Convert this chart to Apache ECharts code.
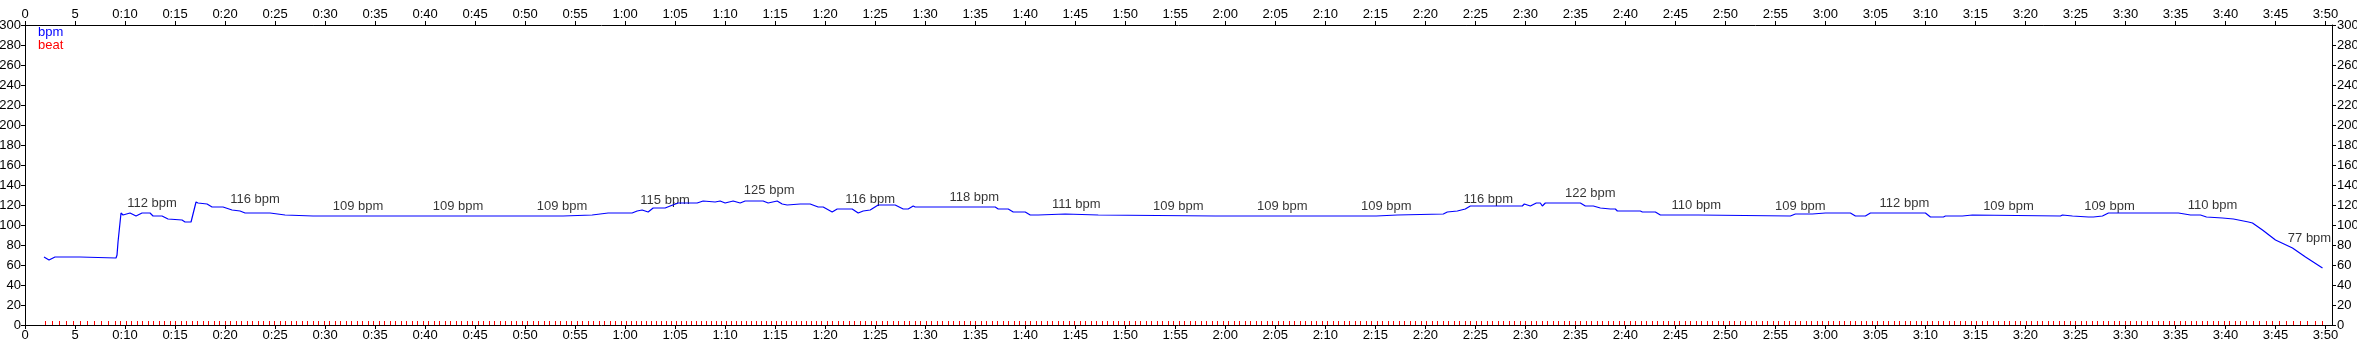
<!DOCTYPE html>
<html>
<head>
<meta charset="utf-8">
<script src="https://cdn.jsdelivr.net/npm/echarts@6/dist/echarts.min.js"></script>
<style>
html,body{margin:0;padding:0;background:#fff;}
#chart{width:2357px;height:350px;}
</style>
</head>
<body>
<div id="chart"></div>
<script>
// Heart-rate curve (time in seconds, bpm)
var bpmTime = [1.9,2.4,3.0,5.5,5.6,9.1,9.2,9.3,9.6,9.8,10.5,11.1,11.7,12.5,12.8,13.7,14.3,15.7,16.0,16.6,17.1,17.3,18.2,18.7,19.8,20.7,21.5,22.0,24.5,26.0,28.8,40.0,53.8,53.9,56.7,58.3,60.7,61.2,61.7,62.3,62.8,64.0,64.5,65.3,67.2,67.8,69.0,69.5,70.0,70.8,71.5,72.0,73.8,74.3,75.2,75.7,76.2,77.5,78.5,79.3,79.8,80.7,81.2,82.7,83.3,83.8,84.5,85.3,87.0,87.8,88.3,88.8,89.0,97.0,97.3,98.3,98.8,100.0,100.5,101.3,101.4,104.0,104.1,107.3,107.4,119.0,135.1,135.2,137.2,137.3,141.8,142.2,143.2,144.0,144.5,149.7,149.9,150.5,151.1,151.5,151.7,152.0,155.5,156.0,156.8,157.5,158.5,159.0,159.2,161.5,161.7,163.0,163.5,167.3,167.4,176.5,177.0,178.7,178.8,180.0,180.1,182.5,183.0,184.0,184.5,188.7,190.0,190.5,191.8,192.0,193.7,193.8,194.7,194.8,203.5,203.7,204.7,206.3,206.8,207.7,208.3,215.3,216.5,217.5,218.1,219.7,220.8,222.3,222.7,223.7,225.0,226.7,228.0,229.7];
var bpmValue = [68,65,68,68,67,67,70,83,112,110,112,109,112,112,109,109,106,105,103,103,123,122,121,118,118,115,114,112,112,110,109,109,109,110,110,112,112,114,115,113,117,117,119,122,122,124,123,124,122,124,122,124,124,122,124,121,120,121,121,118,118,113,116,116,112,114,115,120,120,116,116,119,118,118,116,116,113,113,110,110,111,111,110,110,109,109,109,110,110,111,111,113,114,116,119,119,121,119,122,122,119,122,122,119,119,117,116,116,114,114,113,113,110,110,109,109,111,111,112,112,112,112,109,109,112,112,112,108,108,109,109,110,110,109,109,110,109,108,108,109,112,112,110,110,108,107,106,103,102,95,85,77,68,57];

// Average labels along the curve
var labelTime = [12.7,23.0,33.3,43.3,53.7,64.0,74.4,84.5,94.9,105.1,115.3,125.7,136.1,146.3,156.5,167.1,177.5,187.9,198.3,208.4,218.7,228.4];
var labelValue = [112,116,109,109,109,115,125,116,118,111,109,109,109,116,122,110,109,112,109,109,110,77];

// Beat markers (time in seconds)
var beatTime = [2.0,2.7,3.4,4.1,4.8,5.5,6.2,6.9,7.6,8.3,9.0,
9.5,10.05,10.6,11.15,11.7,12.25,12.8,13.35,13.9,14.45,15,15.55,16.1,16.65,17.2,17.75,18.3,18.85,19.4,19.95,
20.5,21.05,21.6,22.15,22.7,23.25,23.8,24.35,24.9,25.45,26,26.55,27.1,27.65,28.2,28.75,29.3,29.85,30.4,30.95,
31.5,32.05,32.6,33.15,33.7,34.25,34.8,35.35,35.9,36.45,37,37.55,38.1,38.65,39.2,39.75,40.3,40.85,41.4,41.95,
42.5,43.05,43.6,44.15,44.7,45.25,45.8,46.35,46.9,47.45,48,48.55,49.1,49.65,50.2,50.75,51.3,51.85,52.4,52.95,
53.5,54.05,54.6,55.15,55.7,56.25,56.8,57.35,57.9,58.45,59,59.55,
60.1,60.6,61.1,61.6,62.1,62.6,63.1,63.6,64.1,64.6,65.1,65.6,66.1,66.6,67.1,67.6,68.1,68.6,69.1,69.6,
70.1,70.6,71.1,71.6,72.1,72.6,73.1,73.6,74.1,74.6,75.1,75.6,76.1,76.6,77.1,77.6,78.1,78.6,79.1,79.6,
80.15,80.7,81.25,81.8,82.35,82.9,83.45,84,84.55,85.1,85.65,86.2,86.75,87.3,87.85,88.4,88.95,89.5,90.05,90.6,
91.15,91.7,92.25,92.8,93.35,93.9,94.45,95,95.55,96.1,96.65,97.2,97.75,98.3,98.85,99.4,99.95,100.5,101.05,101.6,
102.15,102.7,103.25,103.8,104.35,104.9,105.45,106,106.55,107.1,107.65,108.2,108.75,109.3,109.85,110.4,110.95,111.5,112.05,112.6,
113.15,113.7,114.25,114.8,115.35,115.9,116.45,117,117.55,118.1,118.65,119.2,119.75,120.3,120.85,121.4,121.95,122.5,123.05,123.6,
124.15,124.7,125.25,125.8,126.35,126.9,127.45,128,128.55,129.1,129.65,130.2,130.75,131.3,131.85,132.4,132.95,133.5,134.05,134.6,
135.15,135.7,136.25,136.8,137.35,137.9,138.45,139,139.55,140.1,140.65,141.2,141.75,142.3,142.85,143.4,143.95,144.5,145.05,145.6,
146.15,146.7,147.25,147.8,148.35,148.9,149.45,150,150.55,151.1,151.65,152.2,152.75,153.3,153.85,154.4,154.95,155.5,156.05,156.6,
157.15,157.7,158.25,158.8,159.35,159.9,160.45,161,161.55,162.1,162.65,163.2,163.75,164.3,164.85,165.4,165.95,166.5,167.05,167.6,
168.15,168.7,169.25,169.8,170.35,170.9,171.45,172,172.55,173.1,173.65,174.2,174.75,175.3,175.85,176.4,176.95,177.5,178.05,178.6,
179.15,179.7,180.25,180.8,181.35,181.9,182.45,183,183.55,184.1,184.65,185.2,185.75,186.3,186.85,187.4,187.95,188.5,189.05,189.6,
190.15,190.7,191.25,191.8,192.35,192.9,193.45,194,194.55,195.1,195.65,196.2,196.75,197.3,197.85,198.4,198.95,199.5,200.05,200.6,
201.15,201.7,202.25,202.8,203.35,203.9,204.45,205,205.55,206.1,206.65,207.2,207.75,208.3,208.85,209.4,209.95,210.5,211.05,211.6,
212.15,212.7,213.25,213.8,214.35,214.9,215.45,216,216.55,217.1,217.65,218.2,218.75,219.3,219.85,220.4,220.95,221.5,
222.1,222.75,223.4,224.05,224.7,225.4,226.1,226.8,227.5,228.2,228.95,229.7];

// Axis ticks
var xTicks = [0,5,10,15,20,25,30,35,40,45,50,55,60,65,70,75,80,85,90,95,100,105,110,115,120,125,130,135,140,145,150,155,160,165,170,175,180,185,190,195,200,205,210,215,220,225,230];
var xMax = 230.65;
var yMin = 0, yMax = 300, yStep = 20;

function fmtTime(v) {
  if (v < 10) return String(v);
  var m = Math.floor(v / 60), s = Math.round(v % 60);
  return m + ':' + (s < 10 ? '0' : '') + s;
}

var FONT = "'Liberation Sans', Arial, sans-serif";
var chart = echarts.init(document.getElementById('chart'), null, {renderer: 'canvas'});

function xAxisDef(pos) {
  return {
    type: 'value', position: pos, min: 0, max: xMax,
    axisLine: {show: true, onZero: false, lineStyle: {color: '#000', width: 1}},
    axisTick: {show: true, length: 4, customValues: xTicks, lineStyle: {color: '#000'}},
    axisLabel: {show: true, customValues: xTicks, formatter: fmtTime, color: '#000', fontSize: 13, fontFamily: FONT, margin: 4},
    splitLine: {show: false}
  };
}
function yAxisDef(pos, margin) {
  return {
    type: 'value', position: pos, min: yMin, max: yMax, interval: yStep,
    axisLine: {show: true, onZero: false, lineStyle: {color: '#000', width: 1}},
    axisTick: {show: true, length: 4, lineStyle: {color: '#000'}},
    axisLabel: {show: true, color: '#000', fontSize: 13, fontFamily: FONT, margin: margin},
    splitLine: {show: false}
  };
}

chart.setOption({
  backgroundColor: '#fff',
  animation: false,
  grid: {left: 25, right: 25, top: 25, bottom: 25, containLabel: false, outerBoundsMode: 'none'},
  legend: {
    orient: 'vertical', left: 33, top: 26, itemGap: 0, itemWidth: 0, itemHeight: 0,
    selectedMode: false, padding: 0,
    textStyle: {fontSize: 13, fontFamily: FONT},
    data: [
      {name: 'bpm', icon: 'rect', textStyle: {color: '#0000ff'}},
      {name: 'beat', icon: 'rect', textStyle: {color: '#ff0000'}}
    ]
  },
  xAxis: [xAxisDef('bottom'), xAxisDef('top')],
  yAxis: [yAxisDef('left', 4), yAxisDef('right', 5)],
  series: [
    {
      name: 'bpm', type: 'line', xAxisIndex: 0, yAxisIndex: 0,
      data: bpmTime.map(function (t, i) { return [t, bpmValue[i]]; }),
      showSymbol: false, symbol: 'none', smooth: false,
      lineStyle: {color: '#0000ff', width: 1.2}, itemStyle: {color: '#0000ff'}
    },
    {
      name: 'beat', type: 'custom', xAxisIndex: 0, yAxisIndex: 0,
      data: beatTime.map(function (t) { return [t, 0]; }),
      itemStyle: {color: '#ff0000'},
      renderItem: function (params, api) {
        var p = api.coord([api.value(0), api.value(1)]);
        var x = Math.round(p[0]) + 0.5;
        var y = Math.round(p[1]);
        return {
          type: 'line',
          shape: {x1: x, y1: y, x2: x, y2: y - 4},
          style: {stroke: '#ff0000', lineWidth: 1}
        };
      },
      clip: false, silent: true
    },
    {
      name: 'avg', type: 'scatter', xAxisIndex: 0, yAxisIndex: 0,
      data: labelTime.map(function (t, i) { return [t, labelValue[i]]; }),
      symbol: 'circle', symbolSize: 1, itemStyle: {color: 'transparent'},
      label: {
        show: true, position: 'top', distance: 3, color: '#000', fontSize: 13, fontFamily: FONT,
        formatter: function (p) { return p.value[1] + ' bpm'; }
      },
      clip: false, silent: true
    }
  ]
});
</script>
</body>
</html>
